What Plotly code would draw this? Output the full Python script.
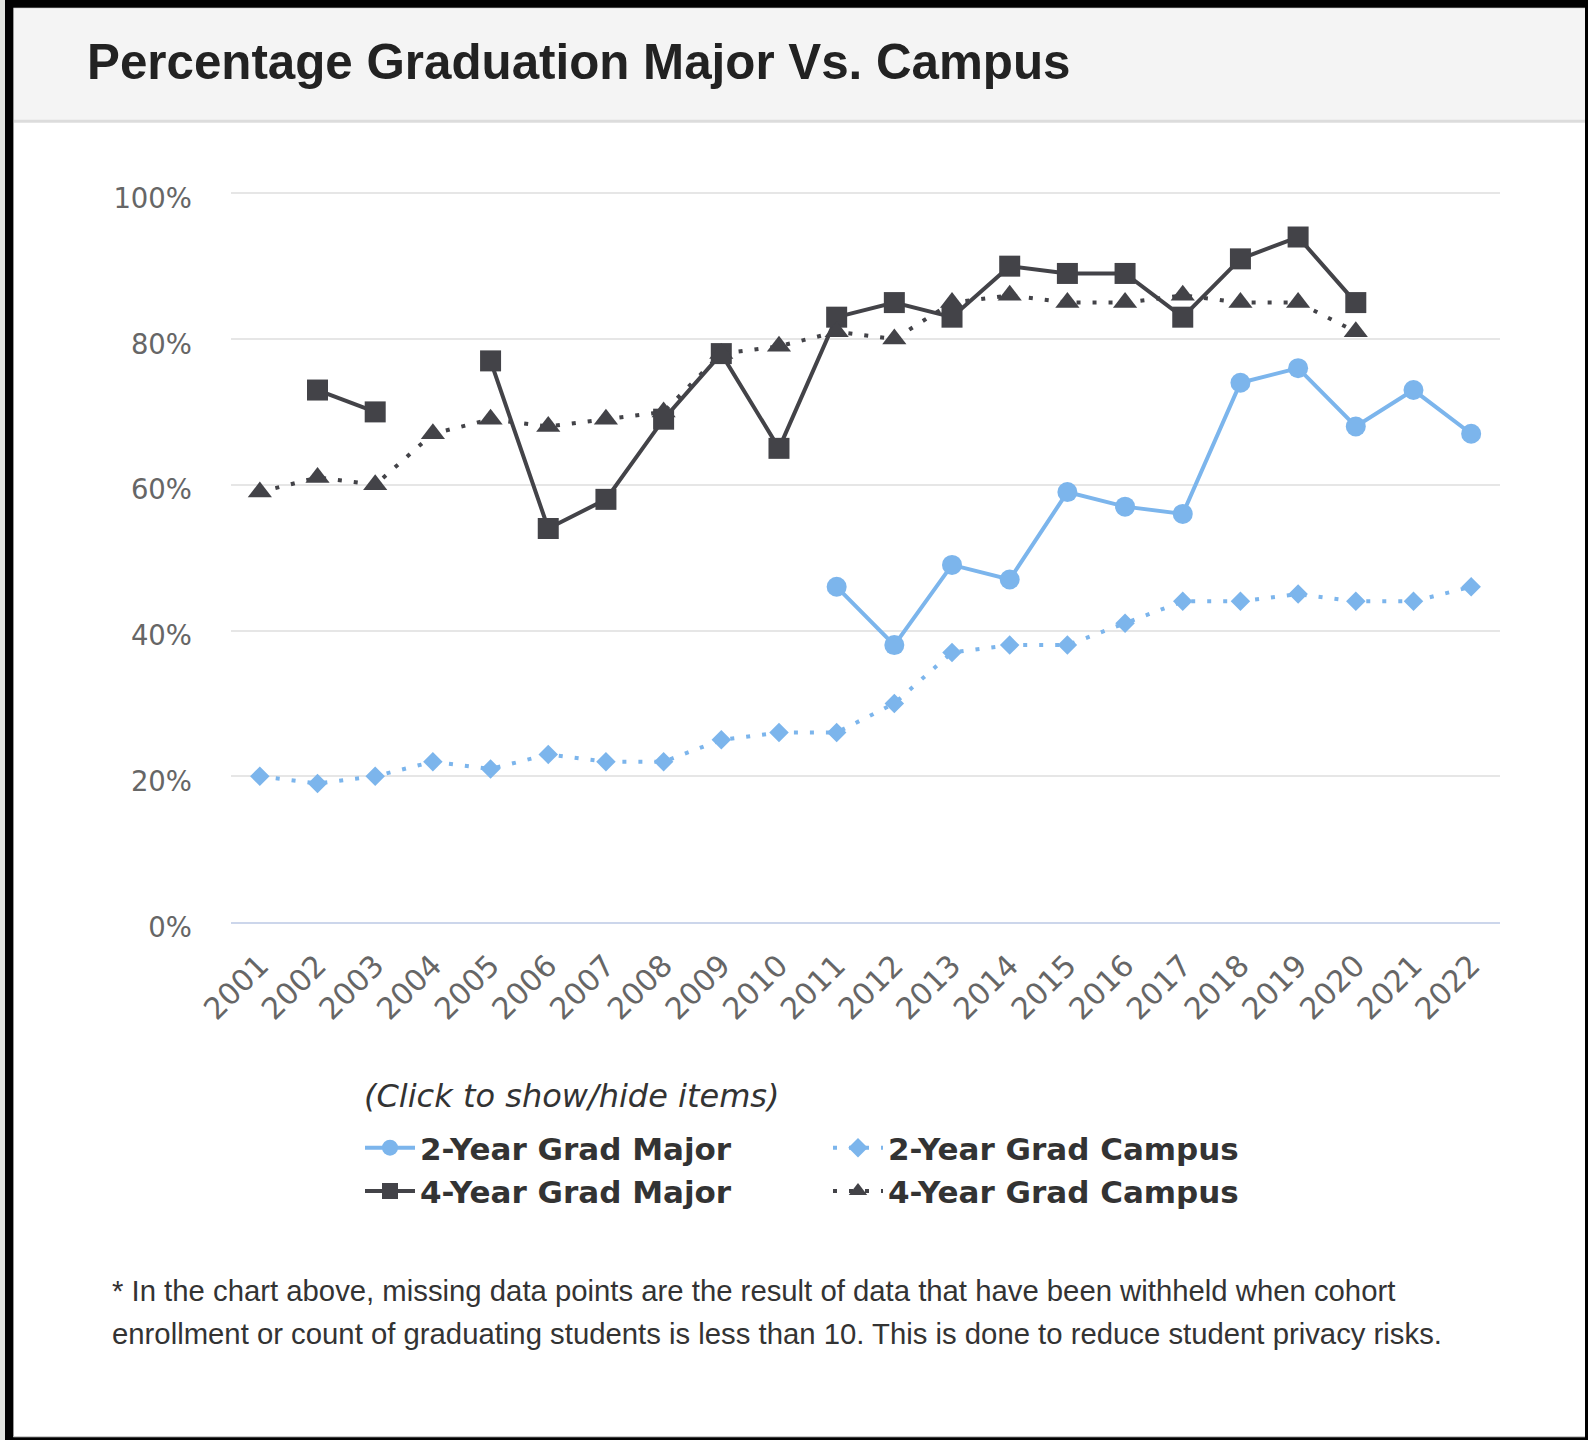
import plotly.graph_objects as go

years = [str(y) for y in range(2001, 2023)]
two_year_major = [None, None, None, None, None, None, None, None, None, None,
                  46, 38, 49, 47, 59, 57, 56, 74, 76, 68, 73, 67]
two_year_campus = [20, 19, 20, 22, 21, 23, 22, 22, 25, 26,
                   26, 30, 37, 38, 38, 41, 44, 44, 45, 44, 44, 46]
four_year_major = [None, 73, 70, None, 77, 54, 58, 69, 78, 65,
                   83, 85, 83, 90, 89, 89, 83, 91, 94, 85, None, None]
four_year_campus = [59, 61, 60, 67, 69, 68, 69, 70, 78, 79,
                    81, 80, 85, 86, 85, 85, 86, 85, 85, 81, None, None]
y_ticks = [0, 20, 40, 60, 80, 100]
y_tick_labels = ["0%", "20%", "40%", "60%", "80%", "100%"]

title_text = "Percentage Graduation Major Vs. Campus"
legend_title = "(Click to show/hide items)"
footnote_1 = "* In the chart above, missing data points are the result of data that have been withheld when cohort"
footnote_2 = "enrollment or count of graduating students is less than 10. This is done to reduce student privacy risks."

W, H = 1588, 1440
Y_MAX = 101
L, R, B = 231, 1500, 922
T = B - (B - 193.5) * Y_MAX / 100
BLUE = "#7cb5ec"
DARK = "#434348"


def px(x):
    return (x - L) / (R - L)


def py(y):
    return (B - y) / (B - T)


fig = go.Figure()
fig.add_trace(go.Scatter(
    x=years, y=two_year_major, name="2-Year Grad Major", mode="lines+markers",
    line=dict(color=BLUE, width=4), marker=dict(symbol="circle", size=20, color=BLUE),
    legend="legend"))
fig.add_trace(go.Scatter(
    x=years, y=four_year_major, name="4-Year Grad Major", mode="lines+markers",
    line=dict(color=DARK, width=4), marker=dict(symbol="square", size=21, color=DARK),
    legend="legend"))
fig.add_trace(go.Scatter(
    x=years, y=two_year_campus, name="2-Year Grad Campus", mode="lines+markers",
    line=dict(color=BLUE, width=4, dash="4px,12px"),
    marker=dict(symbol="diamond", size=15, color=BLUE),
    legend="legend2"))
fig.add_trace(go.Scatter(
    x=years, y=four_year_campus, name="4-Year Grad Campus", mode="lines+markers",
    line=dict(color=DARK, width=4, dash="4px,12px"),
    marker=dict(symbol="triangle-up", size=21, color=DARK),
    legend="legend2"))

shapes = []


def rect(x0, y0, x1, y1, color, layer="below"):
    shapes.append(dict(type="rect", xref="paper", yref="paper",
                       x0=px(x0), x1=px(x1), y0=py(y1), y1=py(y0),
                       fillcolor=color, line=dict(width=0), layer=layer))


rect(13, 8, 1585, 121, "#f4f4f4")
rect(13, 120, 1585, 123, "#dcdcdc")
rect(13, 8, 1585, 9, "#e2e2e2")
rect(0, 0, 5, 1440, "#e0e2de", "above")
rect(5, 0, 13, 1440, "#000000", "above")
rect(13, 0, 14, 1440, "#9a9a9a", "above")
rect(5, 0, 1588, 8, "#000000", "above")
rect(1585, 0, 1588, 1440, "#000000", "above")
rect(13, 1436, 1585, 1437, "#bbbbbb", "above")
rect(5, 1437, 1588, 1440, "#000000", "above")

annotations = [
    dict(text="<b>" + title_text + "</b>", xref="paper", yref="paper",
         x=px(85), y=py(62), xanchor="left", yanchor="middle", showarrow=False,
         font=dict(family="Liberation Sans", size=49.3, color="#222222")),
    dict(text=legend_title, xref="paper", yref="paper",
         x=px(362), y=py(1096), xanchor="left", yanchor="middle", showarrow=False,
         font=dict(family="DejaVu Sans", size=32, color="#333333", style="italic")),
    dict(text=footnote_1, xref="paper", yref="paper",
         x=px(110), y=py(1290), xanchor="left", yanchor="middle", showarrow=False,
         font=dict(family="Liberation Sans", size=29.3, color="#333333")),
    dict(text=footnote_2, xref="paper", yref="paper",
         x=px(110), y=py(1333), xanchor="left", yanchor="middle", showarrow=False,
         font=dict(family="Liberation Sans", size=29.3, color="#333333")),
]

legend_font = dict(family="DejaVu Sans", size=31, color="#333333", weight="bold")

fig.update_layout(
    width=W, height=H,
    margin=dict(l=L, r=W - R, t=T, b=H - B, autoexpand=False),
    paper_bgcolor="white", plot_bgcolor="white",
    showlegend=True,
    shapes=shapes, annotations=annotations,
    legend=dict(
        x=px(360), y=py(1121), xanchor="left", yanchor="top",
        orientation="v", bgcolor="rgba(0,0,0,0)", tracegroupgap=0,
        font=legend_font, itemwidth=50),
    legend2=dict(
        x=px(828), y=py(1121), xanchor="left", yanchor="top",
        orientation="v", bgcolor="rgba(0,0,0,0)", tracegroupgap=0,
        font=legend_font, itemwidth=50),
    xaxis=dict(type="category", range=[-0.5, 21.5], tickangle=-45,
               showgrid=False, showline=True, linecolor="#ccd6eb", linewidth=2,
               ticks="", ticklabelstandoff=12,
               tickfont=dict(family="DejaVu Sans", size=30, color="#666666"),
               fixedrange=True),
    yaxis=dict(range=[0, Y_MAX], tickmode="array", tickvals=y_ticks, ticktext=y_tick_labels,
               showgrid=True, gridcolor="#e6e6e6", gridwidth=2, zeroline=False,
               showline=False, ticks="", ticklabelstandoff=38, ticklabelshift=5,
               tickfont=dict(family="DejaVu Sans", size=27.5, color="#666666"),
               fixedrange=True),
)

fig.write_html("out.html", config={"displayModeBar": False},
               post_script="document.body.style.margin='0';")
